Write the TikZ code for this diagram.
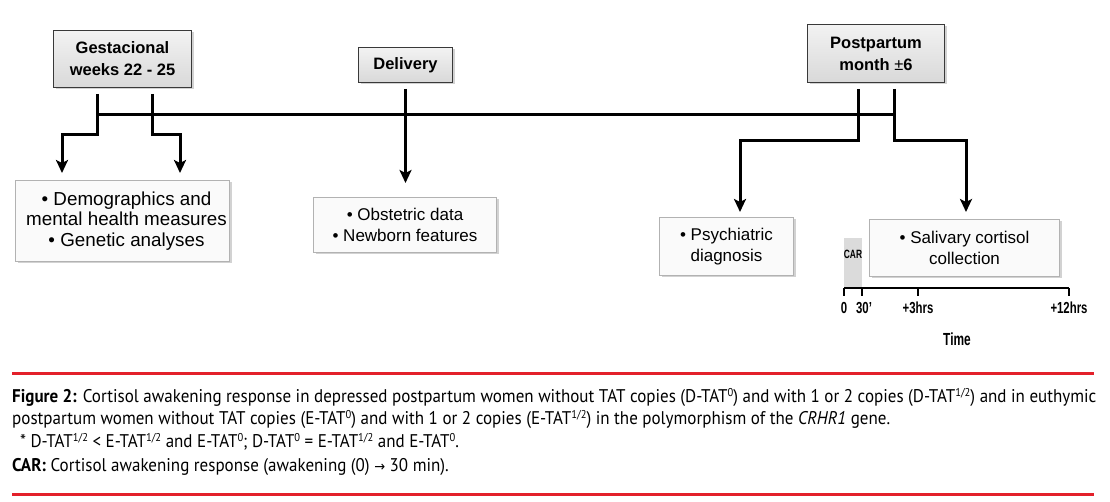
\documentclass[tikz,border=0pt]{standalone}
\usepackage{fontspec}
\usepackage{graphicx}
\setmainfont{Liberation Sans}
\newfontfamily\capfont{PT Sans}
\newfontfamily\symfont{DejaVu Sans}
\usetikzlibrary{arrows.meta,shadows}
\definecolor{capred}{HTML}{E3202A}
\newcommand\cond[1]{\scalebox{0.71}[1]{#1}}
\newcommand\sups[1]{\raisebox{0.62ex}{\fontsize{10.5}{10.5}\selectfont #1}}
\newcommand\tall[1]{\scalebox{1}[1.08]{#1}}
\begin{document}
\begin{tikzpicture}[x=1pt,y=-1pt,
  topbox/.style={draw=gray!45!black, line width=1pt, top color=gray!10, bottom color=gray!30,
    drop shadow={shadow xshift=2pt,shadow yshift=-2pt,fill=gray!70},
    inner sep=0pt, align=center, font=\fontsize{16.5}{22}\selectfont\bfseries},
  infobox/.style={draw=gray!60, line width=1pt, fill=gray!4,
    drop shadow={shadow xshift=2pt,shadow yshift=-2pt,fill=gray!70},
    inner sep=0pt, align=center, font=\fontsize{17}{21}\selectfont},
  conn/.style={line width=3pt, -{Stealth[length=13pt,width=12pt,inset=3pt]}},
  tline/.style={line width=3pt},
  axis/.style={line width=2pt},
  axlab/.style={font=\fontsize{16}{16}\selectfont\bfseries, inner sep=0pt},
  capline/.style={anchor=base west, inner sep=0pt, font=\capfont\fontsize{17}{20}\selectfont}
]
\useasboundingbox (0,0) rectangle (1110,502);
\fill[white] (0,0) rectangle (1110,502);

% top boxes
\node[topbox, minimum width=138pt, minimum height=57pt] (g) at (122.5,59) {Gestacional\\weeks 22 - 25};
\node[topbox, minimum width=94pt, minimum height=35pt] (d) at (405.5,65) {Delivery};
\node[topbox, minimum width=137pt, minimum height=58pt] (p) at (876,53.5) {Postpartum\\month {\mdseries±}6};

% info boxes
\node[infobox, minimum width=214pt, minimum height=81pt, font=\fontsize{18.8}{20.5}\selectfont] (b1) at (122.5,221)
  {\hspace*{8pt}• Demographics and\\\hspace*{8pt}mental health measures\\\hspace*{8pt}• Genetic analyses};
\node[infobox, minimum width=183pt, minimum height=55pt] (b2) at (405,225)
  {• Obstetric data\\• Newborn features};
\node[infobox, minimum width=134pt, minimum height=58pt] (b3) at (726.5,246.5)
  {• Psychiatric\\diagnosis};
\node[infobox, minimum width=190pt, minimum height=57pt] (b4) at (964.5,248)
  {• Salivary cortisol\\collection};

% timeline
\coordinate (tlA) at (97,115);
\coordinate (tlB) at (894,115);
\draw[tline] (tlA) -- (tlB);

% connectors
\draw[conn] ([xshift=-25.5pt,yshift=-6pt]g.south) -- ++(0,41) -| ([xshift=-60.5pt,yshift=7pt]b1.north);
\draw[conn] ([xshift=29.5pt,yshift=-6pt]g.south) -- ++(0,41) -| ([xshift=57.5pt,yshift=7pt]b1.north);
\draw[conn] ([yshift=-6pt]d.south) -- ([xshift=0.5pt,yshift=14pt]b2.north);
\draw[conn] ([xshift=-18pt,yshift=-6pt]p.south) -- ++(0,52) -| ([xshift=13.5pt,yshift=5pt]b3.north);
\draw[conn] ([xshift=18pt,yshift=-6pt]p.south) -- ++(0,52) -| ([xshift=1.5pt,yshift=7pt]b4.north);

% CAR and time axis
\node[fill=gray!28, minimum width=18pt, minimum height=50pt, inner sep=0pt, anchor=south west] (car) at (844,288) {};
\node[inner sep=0pt, font=\fontsize{12}{12}\selectfont\bfseries] (carlab) at (853,254) {\scalebox{0.7}[1]{CAR}};
\coordinate (ax0) at (844,288);
\coordinate (ax1) at (1069,288);
\coordinate (t30) at (862,288);
\coordinate (t3) at (918,288);
\draw[axis] (ax0) -- (ax1);
\foreach \c in {ax0,t30,t3,ax1} \draw[axis] (\c) -- ++(0,8);
\node[axlab] (l0) at (844,308) {\cond{0}};
\node[axlab] (l30) at (864,308) {\cond{30'}};
\node[axlab] (l3) at (918,308) {\cond{+3hrs}};
\node[axlab] (l12) at (1069,308) {\cond{+12hrs}};
\node[axlab, font=\fontsize{17.5}{17.5}\selectfont\bfseries] (ltime) at (957,339) {\scalebox{0.68}[1]{Time}};

% caption
\coordinate (rA) at (12,373);
\coordinate (rB) at (1094,373);
\coordinate (rC) at (12,494);
\coordinate (rD) at (1094,494);
\draw[capred, line width=3pt] (rA) -- (rB);
\draw[capred, line width=3pt] (rC) -- (rD);
\node[capline] (c1) at (12,402) {\tall{\textbf{Figure 2:} Cortisol awakening response in depressed postpartum women without TAT copies (D-TAT\sups{0}) and with 1 or 2 copies (D-TAT\sups{1/2}) and in euthymic}};
\node[capline] (c2) at (12,424) {\tall{postpartum women without TAT copies (E-TAT\sups{0}) and with 1 or 2 copies (E-TAT\sups{1/2}) in the polymorphism of the \textit{CRHR1} gene.}};
\node[capline] (c3) at (17,447) {\tall{\,* D-TAT\sups{1/2} < E-TAT\sups{1/2} and E-TAT\sups{0}; D-TAT\sups{0} = E-TAT\sups{1/2} and E-TAT\sups{0}.}};
\node[capline] (c4) at (12,471) {\tall{\textbf{CAR:} Cortisol awakening response (awakening (0) {\symfont\fontsize{13}{13}\selectfont →} 30 min).}};
\end{tikzpicture}
\end{document}
